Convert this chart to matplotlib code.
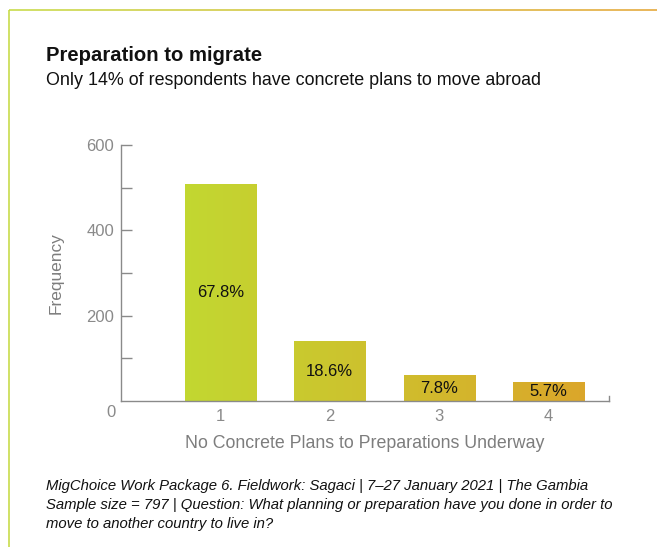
import numpy as np
import matplotlib.pyplot as plt
from matplotlib.colors import LinearSegmentedColormap
from matplotlib.collections import LineCollection
from matplotlib.transforms import blended_transform_factory

plt.rcParams['font.family'] = ['Liberation Sans', 'DejaVu Sans']

# answers on the 1-4 preparation scale
stages = [1, 2, 3, 4]
counts = [508, 140, 59, 43]
shares = [67.8, 18.6, 7.8, 5.7]
yticks_major = [200, 400, 600]
yticks_minor = [100, 300, 500]

title = 'Preparation to migrate'
subtitle = 'Only 14% of respondents have concrete plans to move abroad'
source = [
    'MigChoice Work Package 6. Fieldwork: Sagaci | 7\u201327 January 2021 | The Gambia',
    'Sample size = 797 | Question: What planning or preparation have you done in order to',
    'move to another country to live in?',
]

W, H = 657, 547
grey = '#8a8a8a'
lime_amber = LinearSegmentedColormap.from_list('lime_amber', ['#c2d831', '#dba62a'])

fig = plt.figure(figsize=(W / 100, H / 100), dpi=100)

# page frame: plain left rule, gradient top rule
frame = fig.add_axes([0, 0, 1, 1], zorder=0)
frame.set_xlim(0, W)
frame.set_ylim(H, 0)
frame.axis('off')
frame.plot([8.5, 8.5], [9.5, H], color='#c4d83c', lw=1.1, solid_capstyle='butt')
xs = np.linspace(8.5, W, 200)
pts = np.column_stack([xs, np.full_like(xs, 9.5)])
segs = np.stack([pts[:-1], pts[1:]], axis=1)
top = LineCollection(segs, cmap=LinearSegmentedColormap.from_list('rule', ['#c4d83c', '#e3a22c']),
                     linewidths=1.1)
top.set_array(np.linspace(0, 1, len(segs)))
frame.add_collection(top)

fig.text(46 / W, 1 - 61 / H, title, fontsize=14.6, fontweight='bold', va='baseline',
         color='#111111')
fig.text(46 / W, 1 - 85 / H, subtitle, fontsize=12.9, va='baseline', color='#111111')
for i, line in enumerate(source):
    fig.text(46 / W, 1 - (490 + 19 * i) / H, line, fontsize=10.7, style='italic',
             va='baseline', color='#111111')

ax = fig.add_axes([121 / W, 1 - 401 / H, (609 - 121) / W, 256 / H], zorder=1)
bars = ax.bar(stages, counts, width=0.65, color='none', edgecolor='none')

# horizontal lime-to-amber fill running across all bars
lo, hi = 0.65, 4.35
for b in bars:
    x0, w, h = b.get_x(), b.get_width(), b.get_height()
    grad = np.linspace((x0 - lo) / (hi - lo), (x0 + w - lo) / (hi - lo), 64).reshape(1, -1)
    ax.imshow(grad, cmap=lime_amber, vmin=0, vmax=1, extent=[x0, x0 + w, 0, h],
              aspect='auto', interpolation='bilinear', zorder=1)

ax.bar_label(bars, labels=[f'{s}%' for s in shares], label_type='center',
             fontsize=12, color='#111111')

ax.set_xlim(0.0913, 4.5525)
ax.set_ylim(0, 600)
ax.set_xticks(stages)
ax.set_yticks(yticks_major)
ax.set_yticks(yticks_minor, minor=True)
ax.tick_params(axis='y', which='both', direction='in', length=8, width=1, color=grey,
               labelcolor=grey, labelsize=12, pad=5)
ax.tick_params(axis='x', length=0, labelcolor=grey, labelsize=12, pad=6)

for side in ('top', 'right'):
    ax.spines[side].set_visible(False)
for side in ('left', 'bottom'):
    ax.spines[side].set_color(grey)
    ax.spines[side].set_linewidth(1)

# zero label sits below the corner; small end cap on the x axis
ax.annotate('0', xy=(0, 0), xycoords=blended_transform_factory(ax.transAxes, ax.transData),
            xytext=(-4, -8), textcoords='offset points', ha='right', va='center',
            fontsize=12, color=grey)
ax.plot([1, 1], [0, 0.02], transform=ax.transAxes, color=grey, lw=1, clip_on=False)

ax.set_xlabel('No Concrete Plans to Preparations Underway', fontsize=12.8, color='#7d7d7d',
              labelpad=8)
ax.set_ylabel('Frequency', fontsize=12.4, color='#7d7d7d', labelpad=16)

fig.savefig('out.png', dpi=100)
